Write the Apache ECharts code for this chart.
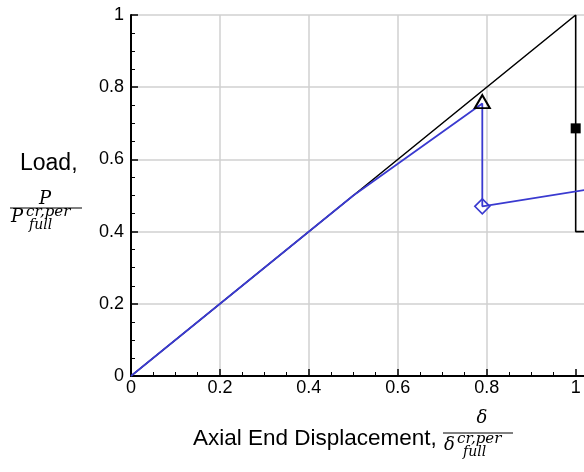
<!DOCTYPE html>
<html>
<head>
<meta charset="utf-8">
<script src="https://cdn.jsdelivr.net/npm/echarts@6/dist/echarts.min.js"></script>
<style>html,body{margin:0;padding:0;background:#fff}#c{width:584px;height:472px}</style>
</head>
<body>
<div id="c"></div>
<script>
// Reference (linear / buckling envelope) curve
const refX = [0, 1, 1, 1.02];
const refY = [0, 1, 0.4, 0.4];
// Response curve
const respX = [0, 0.5, 0.79, 0.79, 1.02];
const respY = [0, 0.5, 0.755, 0.47, 0.515];
// Markers
const triPt = [0.79, 0.76];
const diaPt = [0.79, 0.47];
const sqPt = [1.0, 0.686];
// Axis ticks
const xMajorTicks = [0, 0.2, 0.4, 0.6, 0.8, 1];
const xMinorTicks = [0.05, 0.1, 0.15, 0.25, 0.3, 0.35, 0.45, 0.5, 0.55, 0.65, 0.7, 0.75, 0.85, 0.9, 0.95];
const yTickStep = 0.2;
const xVisibleMax = 1.0187;

const zip = (a, b) => a.map((v, i) => [v, b[i]]);

const chart = echarts.init(document.getElementById('c'), null, {renderer: 'canvas'});
const labelStyle = {color: '#000', fontSize: 18, fontFamily: 'Liberation Sans'};
const serif = 'DejaVu Serif';
chart.setOption({
  animation: false,
  backgroundColor: '#fff',
  grid: {left: 131, top: 15, bottom: 96, right: 0, containLabel: false},
  xAxis: [
    {
      type: 'value', min: 0, max: xVisibleMax,
      axisLine: {show: true, onZero: false, lineStyle: {color: '#000', width: 2}},
      axisTick: {show: true, inside: true, length: 7, customValues: xMajorTicks, lineStyle: {color: '#000', width: 1.5}},
      axisLabel: Object.assign({}, labelStyle, {margin: 3, customValues: xMajorTicks, showMaxLabel: true}),
      splitLine: {show: true, showMaxLine: false, lineStyle: {color: '#d0d0d0', width: 1.5}}
    },
    {
      type: 'value', min: 0, max: xVisibleMax, position: 'bottom',
      axisLine: {show: false},
      axisTick: {show: true, inside: true, length: 4, customValues: xMinorTicks, lineStyle: {color: '#000', width: 1}},
      axisLabel: {show: false},
      splitLine: {show: false}
    }
  ],
  yAxis: {
    type: 'value', min: 0, max: 1, interval: yTickStep,
    axisLine: {show: true, onZero: false, lineStyle: {color: '#000', width: 2}},
    axisTick: {show: true, inside: true, length: 7, lineStyle: {color: '#000', width: 1.5}},
    minorTick: {show: true, splitNumber: 4, length: 4, lineStyle: {color: '#000', width: 1}},
    splitLine: {show: true, lineStyle: {color: '#d0d0d0', width: 1.5}},
    axisLabel: Object.assign({}, labelStyle, {margin: 7})
  },
  series: [
    {type: 'line', data: zip(refX, refY), showSymbol: false, symbol: 'none',
     lineStyle: {color: '#000', width: 1.6}, z: 2},
    {type: 'line', data: zip(respX, respY), showSymbol: false, symbol: 'none',
     lineStyle: {color: '#3a3ad0', width: 1.8}, z: 3},
    {type: 'scatter', data: [triPt], symbol: 'triangle', symbolSize: [15, 13],
     itemStyle: {color: 'rgba(0,0,0,0)', borderColor: '#000', borderWidth: 2, opacity: 1}, z: 4},
    {type: 'scatter', data: [diaPt], symbol: 'diamond', symbolSize: [15, 15],
     itemStyle: {color: 'rgba(0,0,0,0)', borderColor: '#3a3ad0', borderWidth: 1.6, opacity: 1}, z: 4},
    {type: 'scatter', data: [sqPt], symbol: 'rect', symbolSize: 10,
     itemStyle: {color: '#000', opacity: 1}, z: 4}
  ],
  graphic: [
    {type: 'text', style: {text: 'Load,', x: 20, y: 163.5, font: '23px "Liberation Sans"', fill: '#000', textAlign: 'left', textVerticalAlign: 'middle'}},
    {type: 'text', style: {text: 'P', x: 45, y: 199, font: 'italic 18px "' + serif + '"', fill: '#000', textAlign: 'center', textVerticalAlign: 'middle'}},
    {type: 'line', shape: {x1: 10, y1: 208, x2: 82, y2: 208}, style: {stroke: '#000', lineWidth: 1}},
    {type: 'text', style: {text: 'P', x: 11, y: 217, font: 'italic 18px "' + serif + '"', fill: '#000', textAlign: 'left', textVerticalAlign: 'middle'}},
    {type: 'text', style: {text: 'cr,per', x: 26, y: 212.5, font: 'italic 15px "' + serif + '"', fill: '#000', textAlign: 'left', textVerticalAlign: 'middle'}},
    {type: 'text', style: {text: 'full', x: 29, y: 225, font: 'italic 14px "' + serif + '"', fill: '#000', textAlign: 'left', textVerticalAlign: 'middle'}},

    {type: 'text', style: {text: 'Axial End Displacement,', x: 193, y: 439, font: '22.5px "Liberation Sans"', fill: '#000', textAlign: 'left', textVerticalAlign: 'middle'}},
    {type: 'text', style: {text: 'δ', x: 482, y: 418, font: 'italic 18px "' + serif + '"', fill: '#000', textAlign: 'center', textVerticalAlign: 'middle'}},
    {type: 'line', shape: {x1: 443, y1: 433, x2: 513, y2: 433}, style: {stroke: '#000', lineWidth: 1}},
    {type: 'text', style: {text: 'δ', x: 444, y: 445, font: 'italic 18px "' + serif + '"', fill: '#000', textAlign: 'left', textVerticalAlign: 'middle'}},
    {type: 'text', style: {text: 'cr,per', x: 457, y: 439.5, font: 'italic 15px "' + serif + '"', fill: '#000', textAlign: 'left', textVerticalAlign: 'middle'}},
    {type: 'text', style: {text: 'full', x: 463, y: 452, font: 'italic 14px "' + serif + '"', fill: '#000', textAlign: 'left', textVerticalAlign: 'middle'}}
  ]
});
</script>
</body>
</html>
